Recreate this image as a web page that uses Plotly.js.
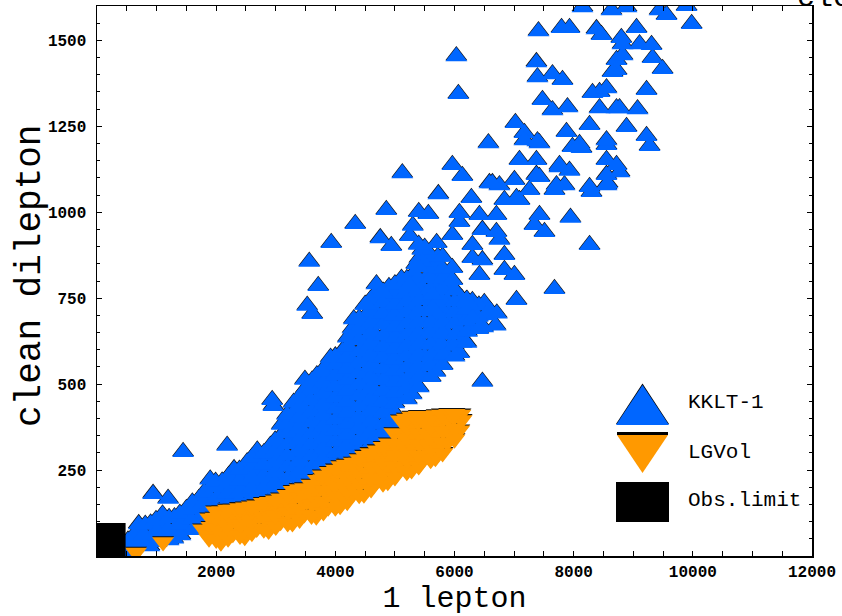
<!DOCTYPE html>
<html>
<head>
<meta charset="utf-8">
<script src="https://cdn.plot.ly/plotly-3.0.1.min.js"></script>
<style>html,body{margin:0;padding:0;background:#fff;}#chart{width:842px;height:616px;}</style>
</head>
<body>
<div id="chart"></div>
<script>
// ---------- DATA ----------
const seriesNames = ["KKLT-1", "LGVol", "Obs.limit"];
const xTickVals = [2000, 4000, 6000, 8000, 10000, 12000];
const yTickVals = [250, 500, 750, 1000, 1250, 1500];
const xTitle = "1 lepton";
const yTitle = "clean dilepton";

// KKLT-1 : [1 lepton, clean dilepton]
const kkltPoints = [
  // dense band
  [487,14],[520,44],
  [690,38],[720,68],[700,92],
  [880,28],[920,60],[900,94],
  [1090,52],[1120,86],[1100,120],
  [1280,50],[1320,82],[1300,112],
  [1490,78],[1520,108],[1500,136],
  [1680,82],[1720,112],[1690,140],[1710,165],
  [1880,111],[1920,141],[1890,171],[1910,201],[1900,222],
  [2080,112],[2120,142],[2090,172],[2110,200],[2100,216],
  [2280,136],[2320,166],[2290,196],[2310,226],[2300,252],
  [2480,125],[2520,155],[2490,185],[2510,215],[2500,245],[2520,272],
  [2680,146],[2720,176],[2690,206],[2710,238],[2700,271],[2690,306],
  [2880,135],[2920,165],[2890,195],[2910,228],[2900,260],[2880,292],[2910,320],
  [3080,166],[3120,196],[3090,228],[3110,261],[3100,294],[3080,326],[3120,356],[3100,381],
  [3280,165],[3320,195],[3290,228],[3310,260],[3300,292],[3280,325],[3320,358],[3290,390],[3310,420],[3300,445],
  [3480,196],[3520,228],[3490,261],[3510,294],[3500,326],[3480,358],[3520,391],[3490,424],[3510,456],[3500,486],[3490,512],
  [3680,200],[3720,232],[3690,265],[3710,298],[3700,330],[3680,362],[3720,395],[3690,428],[3710,460],[3700,492],[3690,525],
  [3880,236],[3920,268],[3890,301],[3910,334],[3900,366],[3880,398],[3920,431],[3890,464],[3910,496],[3900,528],[3880,561],[3920,576],
  [4080,240],[4120,272],[4090,305],[4110,338],[4100,370],[4080,402],[4120,435],[4090,468],[4110,500],[4100,532],[4080,565],[4120,596],
  [4280,271],[4320,304],[4290,336],[4310,368],[4300,401],[4280,434],[4320,466],[4290,498],[4310,531],[4300,564],[4280,596],[4320,628],[4290,661],[4310,688],
  [4480,275],[4520,308],[4490,340],[4510,372],[4500,405],[4480,438],[4520,470],[4490,502],[4510,535],[4500,568],[4480,600],[4520,632],[4490,665],[4510,698],[4500,730],
  [4680,316],[4720,348],[4690,381],[4710,414],[4700,446],[4680,478],[4720,511],[4690,544],[4710,576],[4700,608],[4680,641],[4720,674],[4690,706],[4710,738],[4700,768],[4690,790],
  [4880,330],[4920,362],[4890,395],[4910,428],[4900,460],[4880,492],[4920,525],[4890,558],[4910,590],[4900,622],[4880,655],[4920,688],[4890,720],[4910,752],[4900,782],
  [5080,456],[5120,486],[5090,516],[5080,548],[5120,581],[5090,614],[5110,646],[5100,678],[5080,711],[5120,744],[5090,776],[5110,806],
  [5280,470],[5310,500],[5300,530],[5280,560],[5320,592],[5290,625],[5310,658],[5300,690],[5280,722],[5320,755],[5290,788],[5310,820],
  [5480,521],[5510,551],[5500,581],[5480,614],[5520,646],[5490,678],[5510,711],[5500,744],[5480,776],[5520,808],[5490,841],[5510,874],[5500,896],
  [5680,535],[5720,565],[5690,595],[5710,628],[5700,660],[5680,692],[5720,725],[5690,758],[5710,790],[5700,822],[5680,850],[5720,870],
  [5880,581],[5920,611],[5890,644],[5910,676],[5900,708],[5880,741],[5920,774],[5900,806],
  [6080,590],[6120,620],[6090,652],[6110,685],[6100,715],[6120,748],
  [6280,666],[6320,706],[6300,741],[6480,665],[6520,700],[6500,735],[6690,670],[6710,705],
  // dense band, in-between points
  [600,25],[610,58],
  [800,30],[790,62],[810,90],
  [1000,40],[1010,72],[990,104],
  [1200,45],[1190,78],[1210,110],
  [1400,60],[1410,92],[1390,122],
  [1600,75],[1590,105],[1610,135],[1600,155],
  [1800,95],[1810,125],[1790,155],[1800,185],
  [2000,110],[1990,140],[2010,170],[2000,200],[1990,215],
  [2200,122],[2210,152],[2190,182],[2200,212],[2210,232],
  [2400,130],[2390,160],[2410,190],[2400,220],[2390,250],
  [2600,135],[2610,165],[2590,195],[2600,228],[2610,260],[2600,285],
  [2800,140],[2790,170],[2810,200],[2800,232],[2790,265],[2800,298],
  [3000,150],[3010,180],[2990,212],[3000,244],[3010,276],[3000,308],[2990,335],
  [3200,165],[3190,195],[3210,228],[3200,260],[3190,292],[3200,325],[3210,358],[3200,385],[3190,410],
  [3400,180],[3410,212],[3390,244],[3400,276],[3410,308],[3400,340],[3390,372],[3400,404],[3410,436],[3400,462],
  [3600,195],[3590,228],[3610,260],[3600,292],[3590,324],[3600,356],[3610,388],[3600,420],[3590,452],[3600,484],[3610,510],
  [3800,215],[3810,248],[3790,280],[3800,312],[3810,344],[3800,376],[3790,408],[3800,440],[3810,472],[3800,504],[3790,536],
  [4000,235],[3990,268],[4010,300],[4000,332],[3990,364],[4000,396],[4010,428],[4000,460],[3990,492],[4000,524],[4010,556],[4000,580],
  [4200,255],[4210,288],[4190,320],[4200,352],[4210,384],[4200,416],[4190,448],[4200,480],[4210,512],[4200,544],[4190,576],[4200,608],[4210,635],
  [4400,275],[4390,308],[4410,340],[4400,372],[4390,404],[4400,436],[4410,468],[4400,500],[4390,532],[4400,564],[4410,596],[4400,628],[4390,660],[4400,690],
  [4600,295],[4610,328],[4590,360],[4600,392],[4610,424],[4600,456],[4590,488],[4600,520],[4610,552],[4600,584],[4590,616],[4600,648],[4610,680],[4600,712],[4590,745],
  [4800,320],[4790,352],[4810,384],[4800,416],[4790,448],[4800,480],[4810,512],[4800,544],[4790,576],[4800,608],[4810,640],[4800,672],[4790,704],[4800,736],[4810,768],
  [5000,380],[5010,412],[4990,444],[5000,476],[5010,508],[5000,540],[4990,572],[5000,604],[5010,636],[5000,668],[4990,700],[5000,732],[5010,764],[5000,790],
  [5200,455],[5190,485],[5210,516],[5200,548],[5190,580],[5200,612],[5210,644],[5200,676],[5190,708],[5200,740],[5210,772],[5200,805],
  [5400,490],[5410,520],[5390,552],[5400,584],[5410,616],[5400,648],[5390,680],[5400,712],[5410,744],[5400,776],[5390,808],[5400,840],[5410,865],
  [5600,520],[5590,552],[5610,584],[5600,616],[5590,648],[5600,680],[5610,712],[5600,744],[5590,776],[5600,808],[5610,840],[5600,870],
  [5800,555],[5810,585],[5790,616],[5800,648],[5810,680],[5800,712],[5790,744],[5800,776],[5810,808],[5800,835],
  [6000,580],[5990,612],[6010,644],[6000,676],[5990,708],[6000,740],[6010,772],
  [6200,620],[6210,652],[6190,684],[6200,716],[6210,745],
  [6400,660],[6390,695],[6410,728],
  // scattered points
  [941,180],[1193,166],[1445,302],[2184,320],[2940,453],[2960,436],
  [3562,855],[3931,910],[4334,965],[4855,1006],[4754,924],[4939,901],[3713,785],[3528,727],[3612,703],
  [4788,767],[4519,730],
  [5124,1113],[5729,1052],[5561,994],[6132,1105],[6283,1041],[6082,997],[6082,971],[5964,1137],[5460,890],[5460,855],[5359,849],[5964,837],[5964,933],[6300,866],[6300,904],[6216,738],[6300,692],
  [5400,1000],[5300,960],[5250,930],[5400,905],[5700,910],[5800,870],
  [6586,1084],[6754,1078],[6838,1035],[7040,1041],[6418,991],[6468,948],[6703,991],[6703,942],[6754,919],[6838,875],[6838,831],[7006,817],[6468,860],[6418,817],[5964,802],[5242,788],[5628,759],[5628,721],[6200,744],[7040,744],[6586,715],
  [6468,506],[7678,776],[8266,904],[7946,983],[7426,991],[7342,962],[7510,942],
  [7090,1151],[7006,1093],[7258,1064],[7090,1035],[7375,1151],[7375,1108],[7762,1137],[7846,1078],[7678,1064],[8299,1058],[8568,1084],[8551,1195],[8551,1151],[8551,1108],[8770,1116],[8719,1137],
  [7426,1200],[8131,1186],[7980,1189],[7174,1230],[7174,1209],[7022,1259],[7879,1233],[8266,1253],[8887,1247],[9223,1221],[9274,1192],[6569,1200],
  [6031,1453],[6065,1343],[7476,1326],[7644,1296],[7896,1305],[8434,1349],[8434,1302],[8719,1302],
  [7392,1392],[7375,1436],[7644,1401],[7812,1384],
  [7409,1526],[7796,1535],[7930,1535],[8383,1532],[8467,1515],[8148,1596],[8635,1587],[8887,1596],[9442,1587],[9559,1573],[9895,1599],[9980,1547],
  [8800,1506],[8820,1488],[9055,1535],[9106,1488],[9307,1486],[9324,1448],[9492,1416],[9223,1355],[9072,1299],[8316,1346],[8551,1360],[8770,1302],[8719,1442],[8719,1413],[8820,1456],[8652,1407],
  [7392,1206],[8098,1198],[8551,1209],[7762,1130],[7930,1120],[6636,1084],[7426,1102],[7712,1078],[8266,1073],[8551,1078]
];

// LGVol : [1 lepton, clean dilepton]
const lgvolPoints = [
  [655,10],[1109,41],[1780,78],[1870,60],[2000,76],
  [1880,52],[1920,85],[1900,110],
  [2080,40],[2120,72],[2090,105],[2100,130],
  [2280,65],[2320,100],[2290,135],
  [2480,56],[2520,88],[2490,122],[2500,142],
  [2680,80],[2720,115],[2690,148],
  [2880,74],[2920,106],[2890,139],[2900,158],
  [3080,100],[3120,135],[3090,168],
  [3280,96],[3320,130],[3290,165],[3300,190],
  [3480,122],[3520,160],[3490,198],
  [3680,116],[3720,150],[3690,186],[3710,222],
  [3880,142],[3920,180],[3890,215],[3910,245],
  [4080,146],[4120,178],[4090,212],[4110,244],[4100,262],
  [4280,180],[4320,212],[4290,245],[4310,272],
  [4480,180],[4520,212],[4490,244],[4510,276],[4500,292],
  [4680,215],[4720,248],[4690,280],[4710,308],
  [4880,216],[4920,248],[4890,280],[4910,312],[4900,328],
  [5080,250],[5120,285],[5090,320],[5110,355],[5100,395],
  [5280,250],[5320,284],[5290,318],[5310,352],[5300,386],[5290,406],
  [5480,282],[5520,318],[5490,352],[5510,385],[5500,408],
  [5680,286],[5720,322],[5690,356],[5710,390],[5700,410],
  [5880,330],[5920,365],[5890,398],[5910,414],
  [6080,366],[6120,396],[6100,412],
  // in-between points
  [2000,48],[2010,80],[1990,112],[2000,130],
  [2200,52],[2190,85],[2210,118],[2200,135],
  [2400,60],[2410,92],[2390,125],[2400,140],
  [2600,68],[2590,100],[2610,132],[2600,145],
  [2800,78],[2810,110],[2790,142],[2800,155],
  [3000,86],[2990,118],[3010,150],[3000,162],
  [3200,96],[3210,128],[3190,160],[3200,178],
  [3400,106],[3390,138],[3410,170],[3400,195],
  [3600,118],[3610,150],[3590,182],[3600,208],
  [3800,128],[3790,160],[3810,192],[3800,224],[3790,235],
  [4000,142],[4010,174],[3990,206],[4000,238],[4010,252],
  [4200,158],[4190,190],[4210,222],[4200,254],[4190,266],
  [4400,178],[4410,210],[4390,242],[4400,272],[4410,282],
  [4600,195],[4590,227],[4610,259],[4600,290],[4590,300],
  [4800,212],[4810,244],[4790,276],[4800,305],[4810,318],
  [5000,230],[4990,262],[5010,294],[5000,326],[4990,358],
  [5200,245],[5210,277],[5190,309],[5200,341],[5210,373],[5200,400],
  [5400,262],[5390,294],[5410,326],[5400,358],[5390,390],[5400,408],
  [5600,280],[5610,312],[5590,344],[5600,376],[5610,405],
  [5800,300],[5790,332],[5810,364],[5800,396],[5790,412],
  [6000,340],[6010,372],[5990,404],[6000,414]
];

// Obs.limit region (corners)
const obsX = [0, 480, 480, 0];
const obsY = [0, 0, 96, 96];

// ---------- STYLE ----------
const BLUE = "rgb(0,102,255)";
const ORANGE = "rgb(255,153,0)";
const MONO = "Liberation Mono, DejaVu Sans Mono, monospace";
const MS = 19;

const kx = kkltPoints.map(p => p[0]), ky = kkltPoints.map(p => p[1]);
const lx = lgvolPoints.map(p => p[0]), ly = lgvolPoints.map(p => p[1]);

const traces = [
  // placeholder so that the main (visible) axes own a subplot
  {x: [null], y: [null], xaxis: "x", yaxis: "y", type: "scatter", mode: "markers", hoverinfo: "skip"},
  {x: kx, y: ky, xaxis: "x", yaxis: "y2", type: "scatter", mode: "markers", hoverinfo: "skip",
   marker: {symbol: "triangle-up", size: MS, color: "#111", line: {width: 0}}},
  {x: kx, y: ky, xaxis: "x", yaxis: "y3", type: "scatter", mode: "markers", name: seriesNames[0],
   marker: {symbol: "triangle-up", size: MS, color: BLUE, line: {width: 0}}},
  {x: lx, y: ly, xaxis: "x", yaxis: "y4", type: "scatter", mode: "markers", hoverinfo: "skip",
   marker: {symbol: "triangle-down", size: MS, color: "#111", line: {width: 0}}},
  {x: lx, y: ly, xaxis: "x", yaxis: "y5", type: "scatter", mode: "markers", name: seriesNames[1],
   marker: {symbol: "triangle-down", size: MS, color: ORANGE, line: {width: 0}}},
  {x: obsX, y: obsY, xaxis: "x", yaxis: "y5", type: "scatter", mode: "lines", fill: "toself",
   fillcolor: "#000", line: {width: 0, color: "#000"}, name: seriesNames[2]}
];

const SH = 3; // shadow offset (data units)
const ov = (shift) => ({overlaying: "y", range: [0 - shift, 1600 - shift], visible: false, fixedrange: true});

// legend geometry (paper units)
const P = (px) => (px - 97) / 715, Q = (py) => (556 - py) / 550;
const legendShapes = [
  {type: "path", xref: "paper", yref: "paper", layer: "above", fillcolor: "#000", line: {width: 0},
   path: `M${P(616)},${Q(424)} L${P(669)},${Q(424)} L${P(642.5)},${Q(383.5)} Z`},
  {type: "path", xref: "paper", yref: "paper", layer: "above", fillcolor: BLUE, line: {width: 0},
   path: `M${P(616)},${Q(425)} L${P(669)},${Q(425)} L${P(642.5)},${Q(385)} Z`},
  {type: "rect", xref: "paper", yref: "paper", layer: "above", fillcolor: "#000", line: {width: 0},
   x0: P(617), x1: P(668), y0: Q(435), y1: Q(432)},
  {type: "path", xref: "paper", yref: "paper", layer: "above", fillcolor: ORANGE, line: {width: 0},
   path: `M${P(617)},${Q(435)} L${P(668)},${Q(435)} L${P(642.5)},${Q(473)} Z`},
  {type: "rect", xref: "paper", yref: "paper", layer: "above", fillcolor: "#000", line: {width: 0},
   x0: P(616), x1: P(669), y0: Q(522), y1: Q(482)}
];
const annotations = [
  {text: seriesNames[0], y: Q(402)},
  {text: seriesNames[1], y: Q(452)},
  {text: seriesNames[2], y: Q(500)}
].map(a => ({xref: "paper", yref: "paper", x: P(686), y: a.y, xanchor: "left", yanchor: "middle",
  text: a.text, showarrow: false, font: {family: MONO, size: 21, color: "#000"}}));
// y-axis title
annotations.push({xref: "paper", yref: "paper", x: P(30), y: Q(276), xanchor: "center", yanchor: "middle",
  textangle: -90, text: yTitle, showarrow: false, font: {family: MONO, size: 36, color: "#000"}});
// stray text fragment at the top-right edge
annotations.push({xref: "paper", yref: "paper", x: P(795), y: Q(-2), xanchor: "left", yanchor: "middle",
  text: "cle", showarrow: false, font: {family: MONO, size: 30, color: "#000"}});

const axisCommon = {
  showline: true, linecolor: "#000", linewidth: 1.5, mirror: "allticks",
  ticks: "inside", ticklen: 5, tickwidth: 1, tickcolor: "#000",
  showgrid: false, zeroline: false, tickmode: "array",
  tickfont: {family: MONO, size: 16, weight: "bold", color: "#000"}
};

const layout = {
  width: 842, height: 616,
  margin: {l: 97, r: 30, t: 6, b: 60, pad: 0},
  paper_bgcolor: "#fff", plot_bgcolor: "#fff",
  showlegend: false,
  xaxis: Object.assign({}, axisCommon, {
    range: [0, 12000], tickvals: xTickVals, ticktext: xTickVals.map(String),
    minor: {tickmode: "linear", tick0: 0, dtick: 500, ticks: "inside", ticklen: 3, tickcolor: "#000"},
    title: {text: xTitle, font: {family: MONO, size: 30, color: "#000"}, standoff: 4}
  }),
  yaxis: Object.assign({}, axisCommon, {
    range: [0, 1600], tickvals: yTickVals, ticktext: yTickVals.map(String),
    ticklabelstandoff: 6,
    minor: {tickmode: "linear", tick0: 0, dtick: 50, ticks: "inside", ticklen: 3, tickcolor: "#000"}
  }),
  yaxis2: ov(SH), yaxis3: ov(0), yaxis4: ov(SH), yaxis5: ov(0),
  shapes: legendShapes,
  annotations: annotations
};

Plotly.newPlot("chart", traces, layout, {displayModeBar: false, staticPlot: true});
</script>
</body>
</html>
